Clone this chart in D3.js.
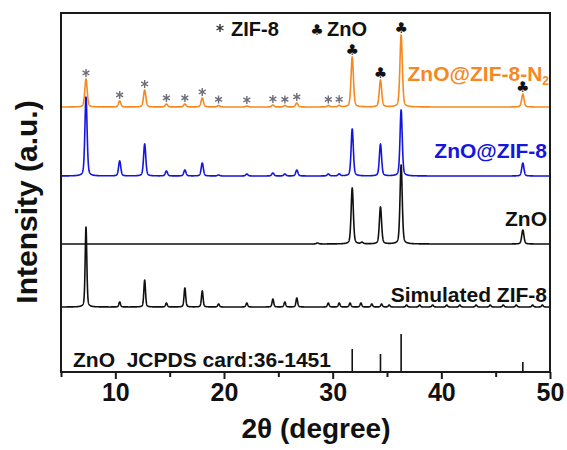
<!DOCTYPE html>
<html>
<head>
<meta charset="utf-8">
<script src="https://cdn.jsdelivr.net/npm/d3@7/dist/d3.min.js"></script>
<style>
  html, body { margin: 0; padding: 0; background: #fff; }
  svg { display: block; }
  text { font-family: "Liberation Sans", Arial, sans-serif; font-weight: bold; }
</style>
</head>
<body>
<svg id="chart" width="567" height="450"></svg>
<script>
// ---------------- DATA ----------------
// ZIF-8 reflection positions (2θ, degree)
const zifPeaks = [7.3, 10.4, 12.7, 14.7, 16.4, 18.0, 19.5, 22.1, 24.5, 25.6, 26.7, 29.6, 30.6];
// ZnO reflection positions (2θ, degree)
const znoPeaks = [31.8, 34.4, 36.3, 47.5];

// Series heights (arbitrary units) at those positions
const orangeZif = [28, 6, 17, 3, 3, 9, 1.5, 1, 2, 1.5, 4, 1.5, 1.5];
const orangeZno = [50, 27, 72, 13];
const blueZif   = [79, 15, 32, 5, 6, 13, 1, 2, 3, 2, 6, 2, 2];
const blueZno   = [47, 32, 66, 13];
const znoZno    = [56, 37, 79, 14];
const znoExtraPos = [28.6, 32.7];
const znoExtraH   = [1, 1.5];
const simZif    = [80, 5, 27, 4, 19, 16, 3, 4, 8, 5, 9, 4, 4];
const simExtraPos = [31.6, 32.6, 33.6, 34.5, 35.2, 36.8, 38.0, 39.2, 40.5, 41.7, 43.2, 44.5, 45.7, 46.9, 48.4, 49.3];
const simExtraH   = [4, 4, 3, 3, 2, 2, 2, 2, 2, 2, 2, 2, 2, 2, 2, 2];
const jcpdsH    = [23, 18, 38, 10];

// Vertical offsets of each stacked pattern (same arbitrary units)
const offsets = { orange: 265, blue: 196, zno: 128, sim: 65, jcpds: 0 };

const seriesNames = ["ZnO@ZIF-8-N", "ZnO@ZIF-8", "ZnO", "Simulated ZIF-8", "ZnO  JCPDS card:36-1451"];
const legendLabels = ["ZIF-8", "ZnO"];
const xTicks = [10, 20, 30, 40, 50];
const xMinorTicks = [5, 15, 25, 35, 45];
const xDomain = [5, 50];
const yDomain = [0, 359];

// ---------------- DRAWING ----------------
const svg = d3.select("#chart");
const L = 61, R = 550, T = 13, B = 372;
const x = d3.scaleLinear().domain(xDomain).range([L, R]);
const y = d3.scaleLinear().domain(yDomain).range([B, T]);

const colOrange = "#f5891f", colBlue = "#1515e0", colBlack = "#111";

function profile(pos, hts, hwhm) {
  return function (t) {
    let s = 0;
    for (let i = 0; i < pos.length; i++) {
      const u = (t - pos[i]) / hwhm;
      const Lz = 1 / (1 + u * u);
      const G = Math.exp(-Math.LN2 * u * u);
      s += hts[i] * (0.35 * Lz + 0.65 * G);
    }
    return s;
  };
}
const grid = d3.range(xDomain[0], xDomain[1] + 0.0001, 0.01);
function trace(f, off) { return grid.map(t => [t, off + f(t)]); }

const line = d3.line().x(d => x(d[0])).y(d => y(d[1]));

const g = svg.append("g");
svg.append("clipPath").attr("id", "clip").append("rect")
  .attr("x", L).attr("y", T).attr("width", R - L).attr("height", B - T);
const plot = g.append("g").attr("clip-path", "url(#clip)");

const patterns = [
  { f: profile(zifPeaks.concat(znoPeaks), orangeZif.concat(orangeZno), 0.13), off: offsets.orange, c: colOrange },
  { f: profile(zifPeaks.concat(znoPeaks), blueZif.concat(blueZno), 0.12), off: offsets.blue, c: colBlue },
  { f: profile(znoPeaks.concat(znoExtraPos), znoZno.concat(znoExtraH), 0.12), off: offsets.zno, c: colBlack },
  { f: profile(zifPeaks.concat(simExtraPos), simZif.concat(simExtraH), 0.09), off: offsets.sim, c: colBlack }
];
// draw from bottom up so orange sits on top
patterns.slice().reverse().forEach(p => {
  plot.append("path").datum(trace(p.f, p.off))
    .attr("fill", "none").attr("stroke", p.c).attr("stroke-width", 1.6)
    .attr("stroke-linejoin", "round").attr("d", line);
});

// JCPDS sticks
plot.selectAll("line.stick").data(znoPeaks).enter().append("line")
  .attr("x1", d => x(d)).attr("x2", d => x(d))
  .attr("y1", y(offsets.jcpds)).attr("y2", (d, i) => y(offsets.jcpds + jcpdsH[i]))
  .attr("stroke", colBlack).attr("stroke-width", 1.6);

// Markers on orange pattern
const fOrange = patterns[0].f;
const star = d3.symbol().type(d3.symbolAsterisk).size(45);
g.selectAll("path.star").data(zifPeaks).enter().append("path")
  .attr("d", star)
  .attr("transform", d => `translate(${x(d)},${y(offsets.orange + fOrange(d)) - 6})`)
  .attr("fill", "none").attr("stroke", "#6e6e7a").attr("stroke-width", 1.4);
g.selectAll("text.club").data(znoPeaks).enter().append("text")
  .attr("x", d => x(d)).attr("y", d => y(offsets.orange + fOrange(d)) - 2)
  .attr("text-anchor", "middle").attr("font-size", 15).attr("fill", colBlack)
  .style("font-family", "'DejaVu Sans', sans-serif")
  .text("\u2663");

// Legend
g.append("path").attr("d", star).attr("transform", "translate(220,28)")
  .attr("fill", "none").attr("stroke", "#333").attr("stroke-width", 1.4);
g.append("text").attr("x", 231).attr("y", 36).attr("font-size", 20).attr("fill", colBlack).text(legendLabels[0]);
g.append("text").attr("x", 317).attr("y", 35).attr("text-anchor", "middle").attr("font-size", 15)
  .style("font-family", "'DejaVu Sans', sans-serif").attr("fill", colBlack).text("\u2663");
g.append("text").attr("x", 327).attr("y", 36).attr("font-size", 20).attr("fill", colBlack).text(legendLabels[1]);

// Series labels
const lab1 = g.append("text").attr("x", 549).attr("y", 81).attr("text-anchor", "end")
  .attr("font-size", 21).attr("fill", colOrange);
lab1.append("tspan").text(seriesNames[0]);
lab1.append("tspan").attr("dy", 4).attr("font-size", 12).text("2");
g.append("text").attr("x", 547).attr("y", 158).attr("text-anchor", "end").attr("font-size", 21).attr("fill", colBlue).text(seriesNames[1]);
g.append("text").attr("x", 547).attr("y", 226).attr("text-anchor", "end").attr("font-size", 21).attr("fill", colBlack).text(seriesNames[2]);
g.append("text").attr("x", 547).attr("y", 302).attr("text-anchor", "end").attr("font-size", 21).attr("fill", colBlack).text(seriesNames[3]);
g.append("text").attr("x", 73).attr("y", 367).attr("font-size", 21).attr("fill", colBlack)
  .attr("xml:space", "preserve").style("white-space", "pre").text(seriesNames[4]);

// Frame
g.append("rect").attr("x", L).attr("y", T).attr("width", R - L).attr("height", B - T)
  .attr("fill", "none").attr("stroke", "#1a1a1a").attr("stroke-width", 2);

// X axis
const ax = d3.axisBottom(x).tickValues(xTicks).tickSize(7).tickPadding(4).tickFormat(d3.format("d"));
const axG = g.append("g").attr("transform", `translate(0,${B})`).call(ax);
axG.select(".domain").remove();
axG.selectAll(".tick line").attr("stroke", "#1a1a1a").attr("stroke-width", 2);
axG.selectAll(".tick text").attr("font-size", 25).attr("fill", colBlack)
  .style("font-family", "'Liberation Sans', Arial, sans-serif").style("font-weight", "bold");
const axMinor = d3.axisBottom(x).tickValues(xMinorTicks).tickSize(5).tickFormat("");
const axMG = g.append("g").attr("transform", `translate(0,${B})`).call(axMinor);
axMG.select(".domain").remove();
axMG.selectAll(".tick line").attr("stroke", "#1a1a1a").attr("stroke-width", 2);

// Axis titles
g.append("text").attr("x", 316).attr("y", 438).attr("text-anchor", "middle").attr("font-size", 28)
  .attr("fill", colBlack).text("2\u03b8 (degree)");
g.append("text").attr("transform", "translate(37,202) rotate(-90)").attr("text-anchor", "middle")
  .attr("font-size", 30).attr("fill", colBlack).text("Intensity (a.u.)");
</script>
</body>
</html>
